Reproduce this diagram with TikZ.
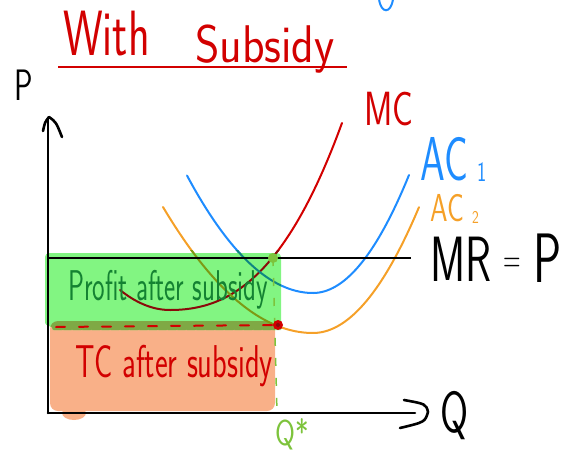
\documentclass[tikz,border=0pt]{standalone}
\usepackage{fontspec}
\usepackage{graphicx}
\usetikzlibrary{decorations.pathmorphing}
\definecolor{hred}{HTML}{D20000}
\definecolor{hblue}{HTML}{1E8CFF}
\definecolor{horange}{HTML}{F5A028}
\definecolor{hgreen}{HTML}{82F582}
\definecolor{hsalmon}{HTML}{F9B088}
\definecolor{hdkgreen}{HTML}{148232}
\definecolor{hlime}{HTML}{7DC33C}
\definecolor{hmaroon}{HTML}{8A0A0A}
\definecolor{holive}{HTML}{7D9A14}
\definecolor{hteal}{HTML}{0F8682}
\definecolor{hband}{HTML}{7FA945}
\newcommand\handtxt[3]{\fontsize{#1}{#1}\selectfont\scalebox{#2}[1]{#3}}
\newcommand\mcplot{plot[domain=120:342,samples=80,smooth] (\x,{310-(\x<170 ? 80 : 30.2+19.2*((\x-170)/100))*((\x-170)/100)*((\x-170)/100)})}
\newcommand\aconeplot{plot[domain=187:409,samples=80,smooth] (\x,{293-(\x<313 ? 74 : 128)*((\x-313)/100)*((\x-313)/100)})}
\newcommand\actwoplot{plot[domain=163:419,samples=80,smooth] (\x,{333-(\x<313 ? 56 : 112)*((\x-313)/100)*((\x-313)/100)})}
\newcommand\greenshape{[rounded corners=4pt] (45,326) -- (45,253) -- (281,253) -- (281,326)
  decorate[decoration={bumps,segment length=19pt,amplitude=4pt}] {-- (45,326)} -- cycle}
\begin{document}
\begin{tikzpicture}[x=1pt,y=-1pt,
  hand/.style={line width=2pt, line cap=round, line join=round},
  axisline/.style={line width=2.6pt, line cap=round, line join=round},
  lbl/.style={inner sep=0pt, anchor=base west, font=\sffamily}]
\useasboundingbox (0,0) rectangle (576,458);

% key points
\coordinate (O) at (48,413);
\coordinate (ytop) at (48,118);
\coordinate (xend) at (415,413);
\coordinate (mrL) at (48,258);
\coordinate (mrR) at (411,258);
\coordinate (gdot) at (273,258);
\coordinate (rdot) at (278,325);
\coordinate (rleft) at (56,327);
\coordinate (qfoot) at (277,413);

% TC area (salmon)
\fill[hsalmon, rounded corners=8pt] (50,321) rectangle (275,411);
\fill[hsalmon] (74,413) ellipse[x radius=12pt, y radius=7pt];

% cost curves
\draw[hand, hred] \mcplot;
\draw[hand, hblue] \aconeplot;
\draw[hand, horange] \actwoplot;

% profit area (green highlighter)
\fill[hgreen] \greenshape;
\begin{scope}
  \clip[rounded corners=8pt] (50,321) rectangle (275,411);
  \fill[hband] \greenshape;
\end{scope}
\begin{scope}
  \clip (44,250) rectangle (281,333);
  \draw[hand, hmaroon] \mcplot;
  \draw[hand, hteal] \aconeplot;
  \draw[hand, holive] \actwoplot;
\end{scope}

% MR = P line
\draw[line width=2pt] (mrL) -- (mrR);

% dashed guides
\draw[hand, hred, dash pattern=on 9pt off 14pt] (rleft) -- (rdot);
\draw[line width=1.5pt, hlime, dash pattern=on 8pt off 12pt] (gdot) -- (qfoot);

% dots
\fill[hlime] (gdot) circle[radius=5pt];
\fill[hred] (rdot) circle[radius=5pt];
\fill[hmaroon] (rdot) circle[radius=2pt];

% axes
\draw[axisline] (O) -- (ytop);
\draw[axisline] (O) -- (xend);
\draw[axisline] (43,131) .. controls (45,122) .. (49,117) .. controls (56,122) .. (62,137);
\draw[axisline] (404,400) .. controls (426,404) .. (428,412) .. controls (425,422) .. (400,428);

% title
\node[lbl, text=hred] (with) at (63,55) {\handtxt{64}{0.7}{With}};
\node[lbl, text=hred] (subsidy) at (195,62) {\handtxt{53}{0.88}{Subsidy}};
\draw[line width=1.5pt, hred] (58,67) coordinate (ulL) -- (347,67) coordinate (ulR);
\draw[line width=2pt, hblue, line cap=round] (379,-1) .. controls (381,14) and (391,14) .. (393,-1);

% axis labels
\node[lbl] (plabel) at (14,100) {\handtxt{44}{0.7}{P}};
\node[lbl] (qlabel) at (440,432) {\handtxt{58}{0.7}{Q}};
\node[lbl, text=hlime] (qstar) at (275,445) {\handtxt{36}{0.8}{Q*}};

% curve labels
\node[lbl, text=hred] (mclabel) at (364,125) {\handtxt{48}{0.72}{MC}};
\node[lbl, text=hblue] (ac1label) at (420,180) {\handtxt{62}{0.64}{AC}};
\node[lbl, text=hblue] (ac1sub) at (477,181) {\handtxt{28}{0.7}{1}};
\node[lbl, text=horange] (ac2label) at (430,221) {\handtxt{39}{0.72}{AC}};
\node[lbl, text=horange] (ac2sub) at (472,223) {\handtxt{18}{0.8}{2}};
\node[lbl] (mrlabel) at (430,281) {\handtxt{64}{0.67}{MR}};
\node[lbl] (eqlabel) at (503,272) {\handtxt{40}{0.6}{=}};
\node[lbl] (pmr) at (533,282) {\handtxt{70}{0.67}{P}};

% area labels
\node[lbl, text=hdkgreen] (profit) at (68,300) {\handtxt{43}{0.62}{Profit after subsidy}};
\node[lbl, text=hred] (tc) at (75,377) {\handtxt{46}{0.66}{TC after subsidy}};
\end{tikzpicture}
\end{document}
